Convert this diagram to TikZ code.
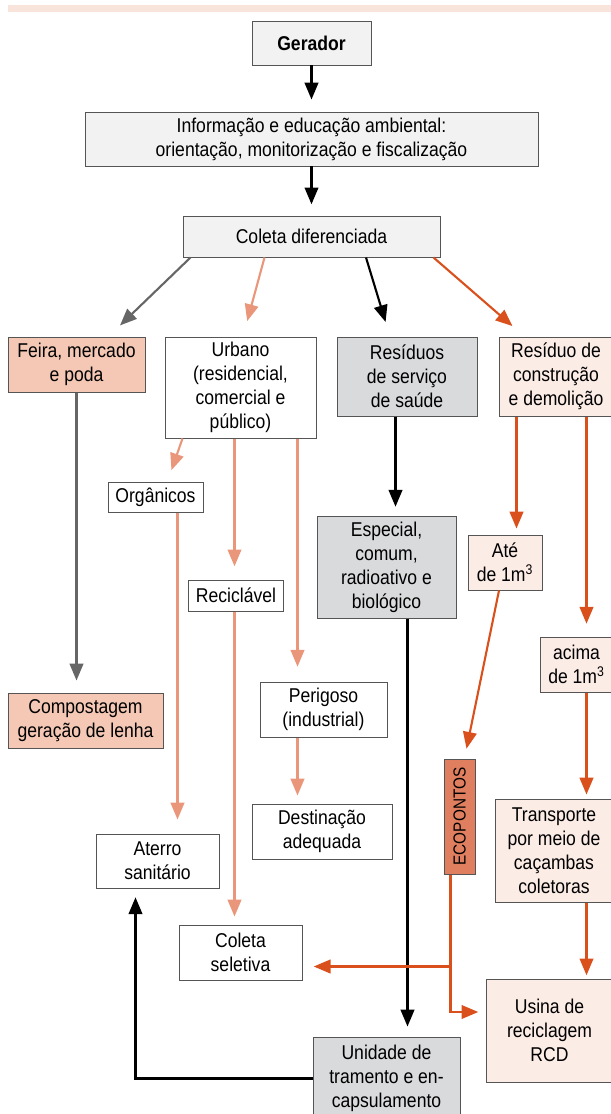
\documentclass[tikz,border=0pt]{standalone}
\usepackage{fontspec}
\setmainfont{Liberation Sans}[FakeStretch=0.88]
\usepackage{tikz}
\usetikzlibrary{arrows.meta,calc}

\definecolor{borderGray}{HTML}{555555}
\definecolor{paleGray}{HTML}{F2F2F2}
\definecolor{feiraFill}{HTML}{F4C8B4}
\definecolor{healthGray}{HTML}{D9DADC}
\definecolor{rcdPink}{HTML}{FCECE6}
\definecolor{ecoFill}{HTML}{E07F5F}
\definecolor{stripePink}{HTML}{F9E4DB}
\definecolor{grayLine}{HTML}{666666}
\definecolor{salmonLine}{HTML}{E9967A}
\definecolor{orangeLine}{HTML}{D9501C}

\newcommand{\boxfont}{\fontsize{14.2}{17}\selectfont}

\begin{document}
\begin{tikzpicture}[x=0.025cm,y=-0.025cm,%%
  boxStyle/.style={draw=borderGray,line width=0.7pt,inner sep=0pt,align=center,fill=white,font=\boxfont},%%
  headStyle/.style={boxStyle,fill=paleGray},%%
  feiraStyle/.style={boxStyle,fill=feiraFill},%%
  healthStyle/.style={boxStyle,fill=healthGray},%%
  rcdStyle/.style={boxStyle,fill=rcdPink},%%
  ecoStyle/.style={boxStyle,fill=ecoFill,font=\fontsize{12.4}{15}\selectfont},%%
  boxSize/.style 2 args={minimum width=#1*0.025cm,minimum height=#2*0.025cm},%%
  arrowStyle/.style={line width=1.5pt,-{Triangle[length=0.42cm,width=0.34cm]},shorten >=0.25cm},%%
  blackArrow/.style={arrowStyle,draw=black},%%
  grayArrow/.style={arrowStyle,draw=grayLine},%%
  salmonArrow/.style={arrowStyle,draw=salmonLine},%%
  orangeArrow/.style={arrowStyle,draw=orangeLine}%%
]
\useasboundingbox (0,0) rectangle (611,1114);
\fill[stripePink] (8,5) rectangle (611,12);
%%
%% Top of the chart.
\node[headStyle,boxSize={119}{44},font=\boxfont\bfseries] (gerador) at (311.5,43) {Gerador};
\node[headStyle,boxSize={453}{54}] (info) at (311.5,139)
  {Informação e educação ambiental:\\orientação, monitorização e fiscalização};
\node[headStyle,boxSize={257}{41}] (coleta) at (311.5,236.5) {Coleta diferenciada};
%%
%% The four kinds of waste.
\node[feiraStyle,boxSize={137}{55}] (feira) at (76.5,364.5) {Feira, mercado\\e poda};
\node[boxStyle,boxSize={151}{101}] (urbano) at (240.5,387.5)
  {Urbano\\(residencial,\\comercial e\\público)};
\node[healthStyle,boxSize={140}{79}] (saude) at (407,376.5) {Resíduos\\de serviço\\de saúde};
\node[rcdStyle,boxSize={114}{79}] (construcao) at (556,376.5) {Resíduo de\\construção\\e demolição};
%%
%% Middle boxes.
\node[boxStyle,boxSize={95}{30}] (organicos) at (155.5,497) {Orgânicos};
\node[boxStyle,boxSize={95}{31}] (reciclavel) at (236,595.5) {Reciclável};
\node[healthStyle,boxSize={139}{102}] (especial) at (386.5,567)
  {Especial,\\comum,\\radioativo e\\biológico};
\node[rcdStyle,boxSize={74}{55}] (ate) at (505,562.5) {Até\\de 1m\textsuperscript{3}};
\node[rcdStyle,boxSize={73}{55}] (acima) at (576.5,664.5) {acima\\de 1m\textsuperscript{3}};
\node[feiraStyle,boxSize={155}{55}] (compostagem) at (85.5,720.5) {Compostagem\\geração de lenha};
\node[boxStyle,boxSize={127}{55}] (perigoso) at (323.5,709.5) {Perigoso\\(industrial)};
\node[boxStyle,boxSize={140}{55}] (destinacao) at (322,831.5) {Destinação\\adequada};
\node[ecoStyle,boxSize={31}{115}] (ecopontos) at (459.5,816.5) {\rotatebox{90}{ECOPONTOS}};
\node[rcdStyle,boxSize={118}{103}] (transporte) at (554,850.5)
  {Transporte\\por meio de\\caçambas\\coletoras};
%%
%% Final destinations.
\node[boxStyle,boxSize={123}{54}] (aterro) at (157.5,861) {Aterro\\sanitário};
\node[boxStyle,boxSize={123}{55}] (seletiva) at (240.5,952.5) {Coleta\\seletiva};
\node[rcdStyle,boxSize={127}{103}] (usina) at (549.5,1030.5) {Usina de\\reciclagem\\RCD};
\node[healthStyle,boxSize={147}{83}] (unidade) at (386.5,1078.5)
  {Unidade de\\tramento e en-\\capsulamento};
%%
%% Draw the main column.
\draw[blackArrow,shorten >=0.3cm] (gerador) -- (info);
\draw[blackArrow,shorten >=0.28cm] (info) -- (coleta);
%% Split the collection.
\draw[grayArrow,shorten >=0.4cm] ($(coleta.south west)+(8,0)$) -- ($(feira.north east)+(-37,0)$);
\draw[salmonArrow,shorten >=0.4cm] ($(coleta.south west)+(82,0)$) -- ($(urbano.north)+(2.5,0)$);
\draw[blackArrow,shorten >=0.38cm] ($(coleta.south)+(54.5,0)$) -- ($(saude.north)+(-17,0)$);
\draw[orangeArrow,shorten >=0.4cm] ($(coleta.south east)+(-7,0)$) -- ($(construcao.north west)+(26,0)$);
%%
%% Market waste.
\draw[grayArrow,shorten >=0.3cm] (feira.south) -- (feira.south |- compostagem.north);
%%
%% Urban waste.
\coordinate (urbOrg) at ($(urbano.south west)+(18,0)$);
\coordinate (urbRec) at ($(urbano.south west)+(70,0)$);
\coordinate (urbPer) at ($(urbano.south west)+(133,0)$);
\coordinate (orgDown) at ($(organicos.south east)+(-26,0)$);
\draw[salmonArrow,shorten >=0.3cm] (urbOrg) -- ($(organicos.north east)+(-36,0)$);
\draw[salmonArrow,shorten >=0.33cm] (urbRec) -- (urbRec |- reciclavel.north);
\draw[salmonArrow,shorten >=0.37cm] (urbPer) -- (urbPer |- perigoso.north);
\draw[salmonArrow,shorten >=0.2cm] (urbPer |- perigoso.south) -- (urbPer |- destinacao.north);
\draw[salmonArrow,shorten >=0.35cm] (orgDown) -- (orgDown |- aterro.north);
\draw[salmonArrow,shorten >=0.2cm] (urbRec |- reciclavel.south) -- (urbRec |- seletiva.north);
%%
%% Health waste.
\coordinate (saudeDown) at ($(saude.south west)+(59,0)$);
\coordinate (espDown) at ($(especial.south west)+(91,0)$);
\coordinate (aterroUp) at ($(aterro.south west)+(40,0)$);
\draw[blackArrow,shorten >=0.22cm] (saudeDown) -- (saudeDown |- especial.north);
\draw[blackArrow] (espDown) -- (espDown |- unidade.north);
\draw[blackArrow,shorten >=0.22cm] (unidade.west) -| (aterroUp);
%%
%% Construction waste.
\coordinate (rcdLeft) at ($(construcao.south west)+(18,0)$);
\coordinate (rcdRight) at ($(construcao.south west)+(88,0)$);
\coordinate (ecoSplit) at ($(ecopontos.south west)+(7,92)$);
\draw[orangeArrow,shorten >=0.15cm] (rcdLeft) -- (rcdLeft |- ate.north);
\draw[orangeArrow,shorten >=0.32cm] (rcdRight) -- (rcdRight |- acima.north);
\draw[orangeArrow,shorten >=0.1cm] (rcdRight |- acima.south) -- (rcdRight |- transporte.north);
\draw[orangeArrow,shorten >=0.08cm] (rcdRight |- transporte.south) -- (rcdRight |- usina.north);
\draw[orangeArrow] ($(ate.south)+(-6,0)$) -- ($(ecopontos.north)+(5,0)$);
\draw[orangeArrow,shorten >=0.28cm] (ecoSplit |- ecopontos.south) -- (ecoSplit) -- (ecoSplit -| seletiva.east);
\draw[orangeArrow,shorten >=0.18cm] (ecoSplit) |- ($(usina.west)+(0,-18.5)$);
\end{tikzpicture}
\end{document}
